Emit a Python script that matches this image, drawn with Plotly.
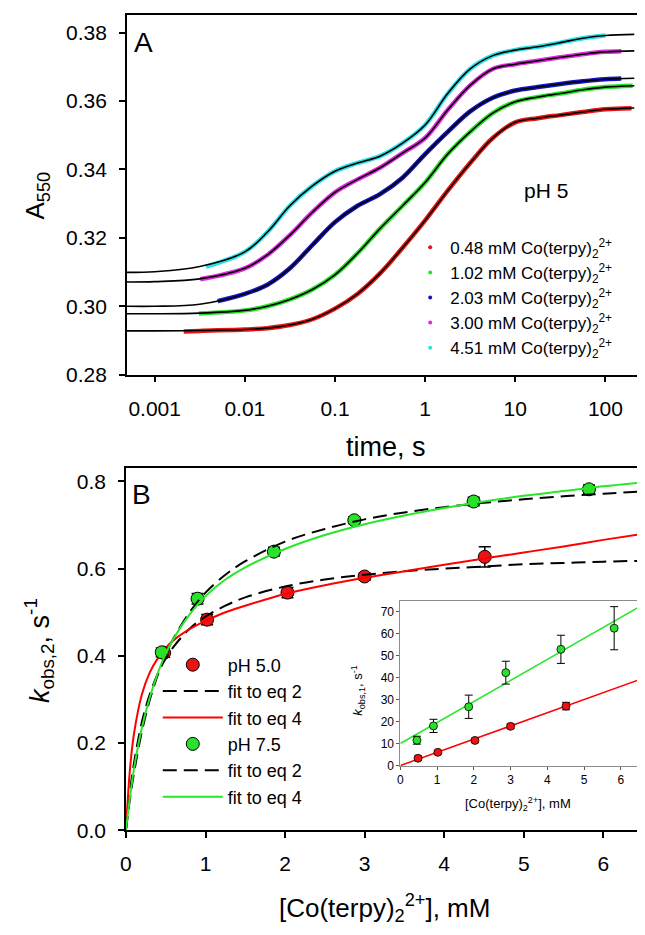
import plotly.graph_objects as go

# ---------------- Panel A data (time in s, absorbance at 550 nm) ----------------
t_fit = [0.00049, 0.001, 0.00316, 0.01, 0.0178, 0.0316, 0.0562, 0.1, 0.178, 0.316,
         0.562, 1.0, 1.78, 3.16, 5.62, 10.0, 17.8, 31.6, 56.2, 100.0, 209.0]
fit_048 = [0.2928, 0.2928, 0.2929, 0.2932, 0.2936, 0.2945, 0.2962, 0.2993, 0.3036, 0.3096,
           0.3171, 0.3251, 0.3338, 0.3419, 0.3492, 0.3538, 0.3550, 0.3559, 0.3568, 0.3576, 0.3580]
fit_102 = [0.2978, 0.2978, 0.2980, 0.2988, 0.3000, 0.3020, 0.3049, 0.3092, 0.3155, 0.3227,
           0.3294, 0.3362, 0.3445, 0.3510, 0.3565, 0.3598, 0.3612, 0.3622, 0.3633, 0.3641, 0.3645]
fit_203 = [0.3000, 0.3000, 0.3006, 0.3036, 0.3063, 0.3111, 0.3179, 0.3246, 0.3294, 0.3328,
           0.3376, 0.3445, 0.3510, 0.3570, 0.3610, 0.3631, 0.3641, 0.3650, 0.3658, 0.3664, 0.3667]
fit_300 = [0.3071, 0.3072, 0.3080, 0.3111, 0.3150, 0.3208, 0.3275, 0.3333, 0.3371, 0.3405,
           0.3448, 0.3492, 0.3574, 0.3646, 0.3694, 0.3708, 0.3718, 0.3728, 0.3737, 0.3744, 0.3747]
fit_451 = [0.3099, 0.3101, 0.3116, 0.3159, 0.3217, 0.3294, 0.3352, 0.3395, 0.3419, 0.3439,
           0.3477, 0.3530, 0.3622, 0.3694, 0.3733, 0.3749, 0.3759, 0.3771, 0.3784, 0.3792, 0.3795]

t_d048 = [0.0021, 0.00316, 0.01, 0.0178, 0.0316, 0.0562, 0.1, 0.178, 0.316, 0.562, 1.0,
          1.78, 3.16, 5.62, 10.0, 17.8, 31.6, 56.2, 100.0, 195.0]
a_d048 = [0.2926, 0.2928, 0.2932, 0.2936, 0.2945, 0.2962, 0.2993, 0.3036, 0.3096, 0.3171, 0.3251,
          0.3338, 0.3419, 0.3492, 0.3538, 0.3550, 0.3559, 0.3568, 0.3576, 0.3579]
t_d102 = [0.0031, 0.01, 0.0178, 0.0316, 0.0562, 0.1, 0.178, 0.316, 0.562, 1.0,
          1.78, 3.16, 5.62, 10.0, 17.8, 31.6, 56.2, 100.0, 200.0]
a_d102 = [0.2979, 0.2988, 0.3000, 0.3020, 0.3049, 0.3092, 0.3155, 0.3227, 0.3294, 0.3362,
          0.3445, 0.3510, 0.3565, 0.3598, 0.3612, 0.3622, 0.3633, 0.3641, 0.3645]
t_d203 = [0.005, 0.01, 0.0178, 0.0316, 0.0562, 0.1, 0.178, 0.316, 0.562, 1.0,
          1.78, 3.16, 5.62, 10.0, 17.8, 31.6, 56.2, 100.0, 150.0]
a_d203 = [0.3015, 0.3036, 0.3063, 0.3111, 0.3179, 0.3246, 0.3294, 0.3328, 0.3376, 0.3445,
          0.3510, 0.3570, 0.3610, 0.3631, 0.3641, 0.3650, 0.3658, 0.3664, 0.3666]
t_d300 = [0.0032, 0.01, 0.0178, 0.0316, 0.0562, 0.1, 0.178, 0.316, 0.562, 1.0,
          1.78, 3.16, 5.62, 10.0, 17.8, 31.6, 56.2, 100.0, 150.0]
a_d300 = [0.3079, 0.3111, 0.3150, 0.3208, 0.3275, 0.3333, 0.3371, 0.3405, 0.3448, 0.3492,
          0.3574, 0.3646, 0.3694, 0.3708, 0.3718, 0.3728, 0.3737, 0.3744, 0.3746]
t_d451 = [0.0037, 0.01, 0.0178, 0.0316, 0.0562, 0.1, 0.178, 0.316, 0.562, 1.0,
          1.78, 3.16, 5.62, 10.0, 17.8, 31.6, 56.2, 100.0]
a_d451 = [0.3116, 0.3159, 0.3217, 0.3294, 0.3352, 0.3395, 0.3419, 0.3439, 0.3477, 0.3530,
          0.3622, 0.3694, 0.3733, 0.3749, 0.3759, 0.3771, 0.3784, 0.3792]

conc_labels = ["0.48", "1.02", "2.03", "3.00", "4.51"]
a_xticks = [0.001, 0.01, 0.1, 1, 10, 100]
a_xticktext = ["0.001", "0.01", "0.1", "1", "10", "100"]
a_yticks = [0.28, 0.30, 0.32, 0.34, 0.36, 0.38]

# ---------------- Panel B data ----------------
ph5_x = [0.48, 1.02, 2.03, 3.00, 4.51]
ph5_k2 = [0.407, 0.483, 0.545, 0.582, 0.627]
ph5_k2_err = [0.010, 0.012, 0.012, 0.008, 0.023]
ph75_x = [0.45, 0.90, 1.86, 2.87, 4.37, 5.82]
ph75_k2 = [0.408, 0.531, 0.639, 0.711, 0.754, 0.782]
ph75_k2_err = [0.010, 0.012, 0.010, 0.008, 0.010, 0.010]

x_fit = [0, 0.05, 0.1, 0.2, 0.3, 0.4, 0.5, 0.6, 0.8, 1.0, 1.25, 1.5, 2.0, 2.5, 3.0,
         3.5, 4.0, 4.5, 5.0, 5.5, 6.0, 6.5]
ph5_eq2 = [0, 0.087, 0.153, 0.248, 0.312, 0.359, 0.394, 0.421, 0.462, 0.490, 0.515, 0.534,
           0.559, 0.575, 0.586, 0.594, 0.600, 0.605, 0.610, 0.613, 0.616, 0.618]
ph5_eq4 = [0, 0.139, 0.220, 0.311, 0.362, 0.394, 0.418, 0.436, 0.461, 0.480, 0.500, 0.515,
           0.542, 0.562, 0.579, 0.594, 0.609, 0.623, 0.637, 0.651, 0.666, 0.680]
ph75_eq2 = [0, 0.071, 0.130, 0.226, 0.299, 0.356, 0.403, 0.441, 0.500, 0.545, 0.586, 0.617,
            0.662, 0.691, 0.713, 0.729, 0.741, 0.751, 0.759, 0.766, 0.772, 0.777]
ph75_eq4 = [0, 0.075, 0.140, 0.235, 0.305, 0.360, 0.405, 0.440, 0.495, 0.537, 0.575, 0.603,
            0.645, 0.677, 0.702, 0.722, 0.739, 0.754, 0.767, 0.778, 0.789, 0.798]

# inset (k_obs,1)
in_ph5_k1 = [3.5, 6.2, 11.6, 18.0, 27.2]
in_ph5_err = [1.0, 0.8, 1.0, 1.0, 1.7]
in_ph75_k1 = [11.7, 18.2, 26.9, 42.4, 53.0, 62.6]
in_ph75_err = [1.8, 3.0, 5.3, 5.2, 6.4, 9.8]
in_line_x = [0, 6.5]
in_ph5_line = [0.2, 39.2]
in_ph75_line = [10.2, 72.3]

FONT = "Arial, 'Liberation Sans', sans-serif"
RED = "rgb(235,20,20)"
GREEN = "rgb(40,225,40)"
BLUE = "rgb(20,20,190)"
MAGENTA = "rgb(225,40,225)"
CYAN = "rgb(40,225,230)"

fig = go.Figure()

# ---- Panel A ----
data_sets = [(t_d048, a_d048, RED), (t_d102, a_d102, GREEN), (t_d203, a_d203, BLUE),
             (t_d300, a_d300, MAGENTA), (t_d451, a_d451, CYAN)]
fits = [fit_048, fit_102, fit_203, fit_300, fit_451]
for (tx, ay, col) in data_sets:
    fig.add_trace(go.Scatter(x=tx, y=ay, mode="lines", line=dict(color=col, width=4.5, shape="spline"),
                             showlegend=False, xaxis="x", yaxis="y", hoverinfo="skip"))
for fy in fits:
    fig.add_trace(go.Scatter(x=t_fit, y=fy, mode="lines", line=dict(color="black", width=1.6, shape="spline"),
                             showlegend=False, xaxis="x", yaxis="y", hoverinfo="skip"))
for lab, (_, _, col) in zip(conc_labels, data_sets):
    fig.add_trace(go.Scatter(x=[None], y=[None], mode="markers",
                             marker=dict(size=4, color=col),
                             name=f"{lab} mM Co(terpy)<sub>2</sub><sup>2+</sup>",
                             xaxis="x", yaxis="y", legend="legend"))

# ---- Panel B ----
fig.add_trace(go.Scatter(x=ph5_x, y=ph5_k2, mode="markers", name="pH 5.0",
                         marker=dict(size=13, color=RED, line=dict(color="black", width=1)),
                         error_y=dict(type="data", array=ph5_k2_err, color="black", thickness=1.5, width=6),
                         xaxis="x2", yaxis="y2", legend="legend2"))
fig.add_trace(go.Scatter(x=x_fit, y=ph5_eq2, mode="lines", name="fit to eq 2",
                         line=dict(color="black", width=2, dash="14px,7px", shape="spline"),
                         xaxis="x2", yaxis="y2", legend="legend2"))
fig.add_trace(go.Scatter(x=x_fit, y=ph5_eq4, mode="lines", name="fit to eq 4",
                         line=dict(color="rgb(255,0,0)", width=2, shape="spline"),
                         xaxis="x2", yaxis="y2", legend="legend2"))
fig.add_trace(go.Scatter(x=ph75_x, y=ph75_k2, mode="markers", name="pH 7.5",
                         marker=dict(size=13, color=GREEN, line=dict(color="black", width=1)),
                         error_y=dict(type="data", array=ph75_k2_err, color="black", thickness=1.5, width=6),
                         xaxis="x2", yaxis="y2", legend="legend2"))
fig.add_trace(go.Scatter(x=x_fit, y=ph75_eq2, mode="lines", name="fit to eq 2",
                         line=dict(color="black", width=2, dash="14px,7px", shape="spline"),
                         xaxis="x2", yaxis="y2", legend="legend2"))
fig.add_trace(go.Scatter(x=x_fit, y=ph75_eq4, mode="lines", name="fit to eq 4",
                         line=dict(color="rgb(40,230,40)", width=2, shape="spline"),
                         xaxis="x2", yaxis="y2", legend="legend2"))

# ---- Inset ----
fig.add_trace(go.Scatter(x=in_line_x, y=in_ph5_line, mode="lines", line=dict(color="rgb(255,0,0)", width=1.5),
                         showlegend=False, xaxis="x3", yaxis="y3"))
fig.add_trace(go.Scatter(x=in_line_x, y=in_ph75_line, mode="lines", line=dict(color="rgb(40,230,40)", width=1.5),
                         showlegend=False, xaxis="x3", yaxis="y3"))
fig.add_trace(go.Scatter(x=ph5_x, y=in_ph5_k1, mode="markers",
                         marker=dict(size=8, color=RED, line=dict(color="black", width=0.8)),
                         error_y=dict(type="data", array=in_ph5_err, color="black", thickness=1, width=4),
                         showlegend=False, xaxis="x3", yaxis="y3"))
fig.add_trace(go.Scatter(x=ph75_x, y=in_ph75_k1, mode="markers",
                         marker=dict(size=8, color=GREEN, line=dict(color="black", width=0.8)),
                         error_y=dict(type="data", array=in_ph75_err, color="black", thickness=1, width=4),
                         showlegend=False, xaxis="x3", yaxis="y3"))

main_ax = dict(showline=True, mirror=True, linecolor="black", linewidth=1.6, ticks="outside",
               ticklen=6, tickwidth=1.6, tickcolor="black", showgrid=False, zeroline=False,
               tickfont=dict(family=FONT, size=21, color="black"))
inset_ax = dict(showline=True, mirror=True, linecolor="rgb(140,140,140)", linewidth=1, ticks="outside",
                ticklen=3, tickwidth=1, tickcolor="rgb(90,90,90)", showgrid=False, zeroline=False,
                tickfont=dict(family=FONT, size=12, color="black"))

fig.update_layout(
    width=645, height=935, margin=dict(l=0, r=0, t=0, b=0),
    paper_bgcolor="white", plot_bgcolor="rgba(0,0,0,0)",
    font=dict(family=FONT, color="black"),
    xaxis=dict(main_ax, type="log", range=[-3.308, 2.396], domain=[0.1767, 0.9814], anchor="y",
               tickvals=a_xticks, ticktext=a_xticktext, ticklabelstandoff=8),
    yaxis=dict(main_ax, range=[0.28, 0.3852], domain=[0.6032, 0.9925], anchor="x",
               tickvals=a_yticks, tickformat=".2f", ticklabelstandoff=8),
    xaxis2=dict(main_ax, range=[0, 6.5], domain=[0.1752, 0.9845], anchor="y2",
                tickvals=[0, 1, 2, 3, 4, 5, 6], ticklabelstandoff=8),
    yaxis2=dict(main_ax, range=[0, 0.832], domain=[0.1102, 0.5027], anchor="x2",
                tickvals=[0, 0.2, 0.4, 0.6, 0.8], tickformat=".1f", ticklabelstandoff=8),
    xaxis3=dict(inset_ax, range=[0, 6.5], domain=[0.6047, 0.9783], anchor="y3",
                tickvals=[0, 1, 2, 3, 4, 5, 6]),
    yaxis3=dict(inset_ax, range=[0, 75], domain=[0.1797, 0.3583], anchor="x3",
                tickvals=[0, 10, 20, 30, 40, 50, 60, 70]),
    legend=dict(x=0.62, y=0.76, xanchor="left", yanchor="top", bgcolor="rgba(0,0,0,0)",
                font=dict(family=FONT, size=17, color="black"), tracegroupgap=0),
    legend2=dict(x=0.225, y=0.309, xanchor="left", yanchor="top", bgcolor="rgba(0,0,0,0)",
                 font=dict(family=FONT, size=18, color="black"), itemwidth=60, tracegroupgap=0),
    showlegend=True,
)

ann = [
    dict(text="A", x=0.2031, y=0.9626, font=dict(size=28)),
    dict(text="pH 5", x=0.8326, y=0.8021, font=dict(size=21)),
    dict(text="time, s", x=0.5814, y=0.5251, font=dict(size=27)),
    dict(text="A<sub>550</sub>", x=0.0357, y=0.7968, font=dict(size=26), textangle=-90),
    dict(text="B", x=0.2, y=0.4738, font=dict(size=28)),
    dict(text="<i>k</i><sub>obs,2</sub>, s<sup>-1</sup>", x=0.0403, y=0.3048, font=dict(size=27), textangle=-90),
    dict(text="[Co(terpy)<sub>2</sub><sup>2+</sup>], mM", x=0.5798, y=0.0257, font=dict(size=26)),
    dict(text="<i>k</i><sub>obs,1</sub>, s<sup>-1</sup>", x=0.538, y=0.262, font=dict(size=13), textangle=-90),
    dict(text="[Co(terpy)<sub>2</sub><sup>2+</sup>], mM", x=0.789, y=0.138, font=dict(size=13)),
]
for a in ann:
    a.update(xref="paper", yref="paper", showarrow=False, xanchor="center", yanchor="middle")
    a["font"].update(family=FONT, color="black")
fig.update_layout(annotations=ann)

fig.write_html("out.html")
